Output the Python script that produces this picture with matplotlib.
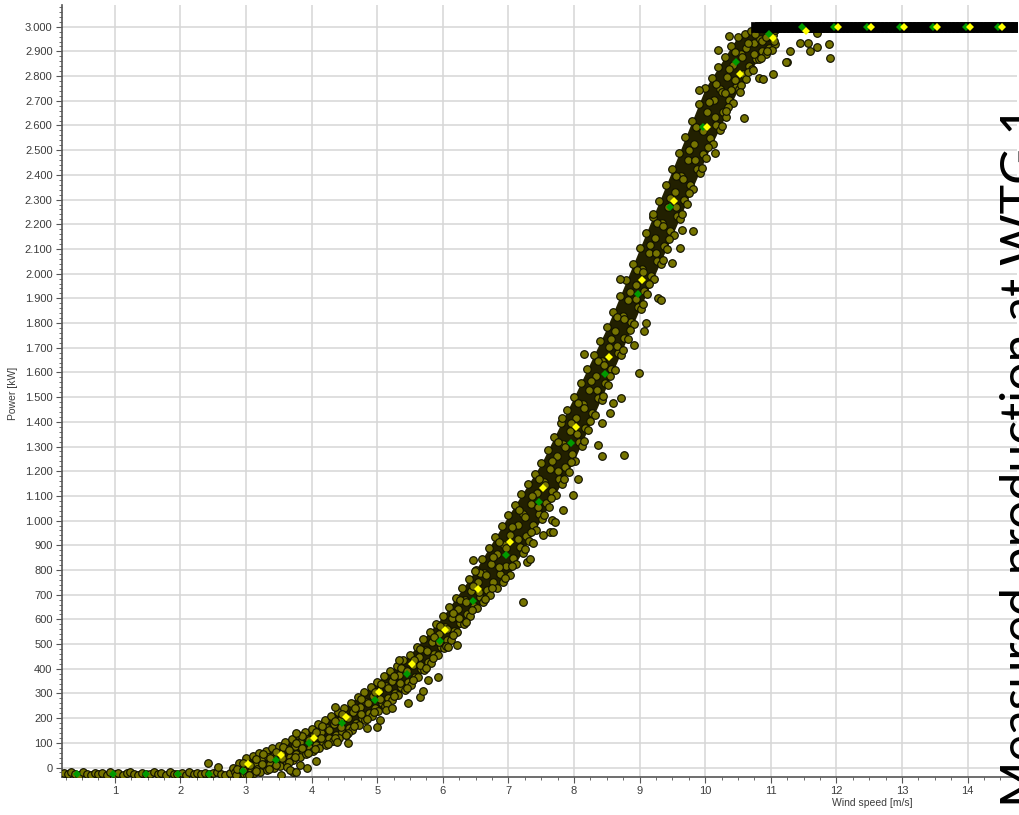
import matplotlib
matplotlib.use("Agg")
import matplotlib.pyplot as plt
import numpy as np
from matplotlib.ticker import MultipleLocator, FuncFormatter

# binned power curve (yellow) and second curve (green)
yellow_ws = [3.03, 3.53, 4.03, 4.53, 5.03, 5.53, 6.03, 6.53, 7.03, 7.53, 8.03, 8.53,
             9.03, 9.53, 10.03, 10.53, 11.03, 11.53, 12.03, 12.53, 13.03, 13.53, 14.03, 14.53]
yellow_kw = [14, 51, 121, 204, 304, 419, 557, 722, 915, 1131, 1381, 1664,
             1974, 2294, 2595, 2808, 2953, 2984, 2998, 3000, 3000, 3000, 3000, 3000]
green_ws = [0.42, 0.98, 1.47, 1.97, 2.44, 2.96, 3.46, 3.96, 4.46, 4.96, 5.46, 5.96, 6.46,
            6.96, 7.46, 7.96, 8.47, 8.97, 9.46, 9.96, 10.47, 10.97, 11.47, 11.97, 12.47,
            12.97, 13.47, 13.97, 14.47]
green_kw = [-25, -25, -25, -25, -25, -12, 31, 99, 182, 274, 378, 514, 676,
            861, 1074, 1313, 1594, 1917, 2271, 2595, 2858, 2970, 3000, 3000, 3000,
            3000, 3000, 3000, 3000]

# dense core of the measured cloud (upper / lower edge)
band_ws = [2.7, 3.0, 3.5, 4.0, 4.5, 5.0, 5.5, 6.0, 6.5, 7.0, 7.5, 8.0, 8.5, 9.0, 9.5,
           10.0, 10.5, 10.8, 11.0]
band_hi = [-20, 40, 90, 160, 244, 348, 458, 612, 800, 1020, 1230, 1500, 1780, 2100, 2420,
           2750, 2962, 2995, 3000]
band_lo = [-37, -37, 5, 62, 130, 226, 333, 482, 644, 776, 1006, 1242, 1546, 1856, 2156,
           2466, 2746, 2866, 2905]

# measured 10-min points
meas_ws = [
    2.80, 2.84, 2.87, 2.90, 2.94, 2.97,
    3.00, 3.03, 3.07, 3.02, 3.10, 3.14, 3.17, 3.12, 3.20, 3.23, 3.27, 3.22,
    3.30, 3.34, 3.37, 3.32, 3.40, 3.43, 3.47, 3.42, 3.50, 3.54, 3.57, 3.52,
    3.60, 3.63, 3.67, 3.62, 3.70, 3.74, 3.77, 3.72, 3.80, 3.83, 3.87, 3.82,
    3.90, 3.94, 3.97, 3.92, 4.00, 4.03, 4.07, 4.02, 4.10, 4.14, 4.17, 4.12,
    4.20, 4.23, 4.27, 4.22, 4.30, 4.34, 4.37, 4.32, 4.40, 4.43, 4.47, 4.42,
    4.50, 4.54, 4.57, 4.52, 4.60, 4.63, 4.67, 4.62, 4.70, 4.74, 4.77, 4.72,
    4.80, 4.83, 4.87, 4.82, 4.90, 4.94, 4.97, 4.92, 5.00, 5.03, 5.07, 5.02,
    5.10, 5.14, 5.17, 5.12, 5.20, 5.23, 5.27, 5.22, 5.30, 5.34, 5.37, 5.32,
    5.40, 5.43, 5.47, 5.42, 5.50, 5.54, 5.57, 5.52, 5.60, 5.63, 5.67, 5.62,
    5.70, 5.74, 5.77, 5.72, 5.80, 5.83, 5.87, 5.82, 5.90, 5.94, 5.97, 5.92,
    6.00, 6.03, 6.07, 6.02, 6.10, 6.14, 6.17, 6.12, 6.20, 6.23, 6.27, 6.22,
    6.30, 6.34, 6.37, 6.32, 6.40, 6.43, 6.47, 6.42, 6.50, 6.54, 6.57, 6.52,
    6.60, 6.63, 6.67, 6.62, 6.70, 6.74, 6.77, 6.72, 6.80, 6.83, 6.87, 6.82,
    6.90, 6.94, 6.97, 6.92, 7.00, 7.03, 7.07, 7.02, 7.10, 7.14, 7.17, 7.12,
    7.20, 7.23, 7.27, 7.22, 7.30, 7.34, 7.37, 7.32, 7.40, 7.43, 7.47, 7.42,
    7.50, 7.54, 7.57, 7.52, 7.60, 7.63, 7.67, 7.62, 7.70, 7.74, 7.77, 7.72,
    7.80, 7.83, 7.87, 7.82, 7.90, 7.94, 7.97, 7.92, 8.00, 8.03, 8.07, 8.02,
    8.10, 8.14, 8.17, 8.12, 8.20, 8.23, 8.27, 8.22, 8.30, 8.34, 8.37, 8.32,
    8.40, 8.43, 8.47, 8.42, 8.50, 8.54, 8.57, 8.52, 8.60, 8.63, 8.67, 8.62,
    8.70, 8.74, 8.77, 8.72, 8.80, 8.83, 8.87, 8.82, 8.90, 8.94, 8.97, 8.92,
    9.00, 9.03, 9.07, 9.02, 9.10, 9.14, 9.17, 9.12, 9.20, 9.23, 9.27, 9.22,
    9.30, 9.34, 9.37, 9.32, 9.40, 9.43, 9.47, 9.42, 9.50, 9.54, 9.57, 9.52,
    9.60, 9.63, 9.67, 9.62, 9.70, 9.74, 9.77, 9.72, 9.80, 9.83, 9.87, 9.82,
    9.90, 9.94, 9.97, 9.92, 10.00, 10.03, 10.07, 10.02, 10.10, 10.14, 10.17, 10.12,
    10.20, 10.23, 10.27, 10.22, 10.30, 10.34, 10.37, 10.32, 10.40, 10.43, 10.47, 10.42,
    10.50, 10.54, 10.57, 10.52, 10.60, 10.63, 10.67, 10.62, 10.70, 10.74, 10.77, 10.72,
    10.80, 10.83, 10.87, 10.82, 10.90, 10.94, 10.97, 10.92, 11.00, 11.04, 11.07, 11.02,
    # second pass through the core
    2.85, 2.86, 2.95, 2.96, 3.05, 3.06, 3.15, 3.16, 3.25, 3.26, 3.35, 3.36,
    3.45, 3.46, 3.55, 3.56, 3.65, 3.66, 3.75, 3.76, 3.85, 3.86, 3.95, 3.96,
    4.05, 4.06, 4.15, 4.16, 4.25, 4.26, 4.35, 4.36, 4.45, 4.46, 4.55, 4.56,
    4.65, 4.66, 4.75, 4.76, 4.85, 4.86, 4.95, 4.96, 5.05, 5.06, 5.15, 5.16,
    5.25, 5.26, 5.35, 5.36, 5.45, 5.46, 5.55, 5.56, 5.65, 5.66, 5.75, 5.76,
    5.85, 5.86, 5.95, 5.96, 6.05, 6.06, 6.15, 6.16, 6.25, 6.26, 6.35, 6.36,
    6.45, 6.46, 6.55, 6.56, 6.65, 6.66, 6.75, 6.76, 6.85, 6.86, 6.95, 6.96,
    7.05, 7.06, 7.15, 7.16, 7.25, 7.26, 7.35, 7.36, 7.45, 7.46, 7.55, 7.56,
    7.65, 7.66, 7.75, 7.76, 7.85, 7.86, 7.95, 7.96, 8.05, 8.06, 8.15, 8.16,
    8.25, 8.26, 8.35, 8.36, 8.45, 8.46, 8.55, 8.56, 8.65, 8.66, 8.75, 8.76,
    8.85, 8.86, 8.95, 8.96, 9.05, 9.06, 9.15, 9.16, 9.25, 9.26, 9.35, 9.36,
    9.45, 9.46, 9.55, 9.56, 9.65, 9.66, 9.75, 9.76, 9.85, 9.86, 9.95, 9.96,
    10.05, 10.06, 10.15, 10.16, 10.25, 10.26, 10.35, 10.36, 10.45, 10.46,
    10.55, 10.56, 10.65, 10.66, 10.75, 10.76, 10.85, 10.86, 10.95, 10.96, 11.05, 11.06,
    # scattered points off the core
    2.42, 2.57, 3.62, 3.72, 3.54, 3.93, 4.06, 3.82, 3.67, 3.77, 4.53, 4.56, 4.38,
    4.84, 4.99, 5.04, 5.14, 5.22, 5.47, 5.65, 5.70, 5.78, 5.92, 6.08, 6.21, 5.34,
    3.77, 4.35, 6.46, 6.49, 7.23, 7.28, 7.33, 7.63, 7.67, 7.81, 8.42, 8.37, 8.43,
    8.06, 7.98, 7.83, 7.71, 7.68, 7.53, 7.38, 8.60, 8.72, 8.55, 8.16, 8.70, 8.99,
    9.28, 9.33, 9.07, 9.10, 9.61, 9.50, 9.64, 9.81, 10.59, 11.03, 11.25, 11.29,
    10.82, 10.88, 10.73, 10.53, 10.40, 10.31, 10.15, 10.32, 9.90, 10.20, 10.36,
    11.24, 11.44, 11.57, 11.60, 11.70, 11.89, 11.90, 11.70, 10.92, 8.77, 8.91, 9.20,
]
meas_kw = [
    -2, -20, -30, 18, -5, -25,
    38, 12, -12, -30, 48, 20, -5, -24, 58, 33, 5, -16,
    68, 42, 14, -8, 78, 50, 22, 0, 88, 60, 30, 8,
    102, 76, 42, 20, 116, 88, 54, 31, 130, 103, 66, 43,
    145, 116, 78, 54, 158, 130, 90, 66, 175, 144, 104, 79,
    192, 160, 118, 93, 208, 175, 132, 106, 225, 191, 146, 120,
    242, 206, 160, 133, 263, 226, 180, 152, 284, 247, 200, 171,
    305, 267, 220, 191, 326, 288, 240, 210, 347, 308, 260, 229,
    369, 330, 281, 250, 391, 352, 303, 272, 413, 373, 325, 293,
    435, 395, 347, 315, 457, 417, 368, 336, 488, 448, 398, 366,
    519, 478, 428, 396, 550, 509, 458, 425, 581, 540, 488, 455,
    612, 570, 518, 485, 650, 606, 552, 517, 688, 642, 586, 549,
    726, 678, 620, 582, 764, 714, 654, 614, 802, 750, 690, 646,
    846, 788, 721, 672, 890, 826, 752, 698, 934, 864, 785, 726,
    978, 901, 816, 752, 1022, 940, 848, 778, 1064, 982, 893, 824,
    1106, 1026, 938, 870, 1148, 1069, 982, 916, 1190, 1112, 1027, 962,
    1232, 1155, 1072, 1008, 1286, 1208, 1121, 1055, 1340, 1260, 1170, 1102,
    1394, 1311, 1219, 1149, 1448, 1362, 1268, 1196, 1502, 1414, 1318, 1243,
    1558, 1472, 1377, 1304, 1614, 1530, 1436, 1365, 1670, 1587, 1496, 1426,
    1726, 1645, 1556, 1487, 1782, 1702, 1615, 1548, 1846, 1766, 1678, 1610,
    1910, 1829, 1740, 1672, 1974, 1892, 1803, 1734, 2038, 1956, 1865, 1796,
    2102, 2019, 1928, 1858, 2166, 2082, 1989, 1918, 2230, 2144, 2050, 1978,
    2294, 2207, 2112, 2038, 2358, 2270, 2173, 2098, 2422, 2332, 2234, 2158,
    2488, 2397, 2297, 2220, 2554, 2461, 2360, 2282, 2620, 2526, 2424, 2344,
    2686, 2591, 2486, 2406, 2752, 2655, 2550, 2468, 2794, 2702, 2601, 2524,
    2836, 2749, 2654, 2580, 2878, 2796, 2705, 2636, 2920, 2843, 2757, 2692,
    2960, 2890, 2810, 2748, 2972, 2912, 2840, 2790, 2982, 2935, 2868, 2830,
    2990, 2950, 2900, 2868, 2992, 2960, 2915, 2890, 2994, 2966, 2930, 2905,
    # second pass through the core
    -29, -4, -11, 18, -29, 12, -15, 36, 15, 55, -6, 39,
    10, 65, 40, 84, 22, 70, 41, 101, 78, 126, 57, 110,
    77, 142, 118, 170, 97, 154, 119, 190, 163, 218, 138, 200,
    167, 243, 217, 277, 196, 261, 226, 305, 277, 339, 256, 323,
    288, 369, 342, 405, 321, 389, 353, 435, 416, 479, 402, 471,
    442, 527, 507, 572, 491, 563, 536, 625, 606, 677, 590, 670,
    636, 735, 710, 789, 683, 778, 727, 852, 812, 915, 768, 889,
    817, 973, 924, 1041, 887, 1013, 953, 1101, 1056, 1169, 1024, 1144,
    1091, 1240, 1201, 1318, 1167, 1298, 1236, 1397, 1351, 1477, 1323, 1458,
    1405, 1564, 1527, 1647, 1505, 1632, 1585, 1735, 1708, 1824, 1689, 1816,
    1772, 1926, 1896, 2015, 1876, 2006, 1958, 2116, 2083, 2206, 2057, 2193,
    2140, 2305, 2268, 2396, 2240, 2382, 2326, 2499, 2459, 2593, 2428, 2576,
    2514, 2694, 2636, 2768, 2599, 2735, 2674, 2829, 2786, 2899,
    2763, 2878, 2816, 2936, 2891, 2970, 2874, 2944, 2902, 2974, 2942, 2988,
    # scattered points off the core
    20, 2, 2, -16, -30, -2, 27, 11, -9, -20, 132, 99, 105,
    160, 166, 193, 234, 240, 261, 287, 308, 355, 368, 490, 497, 436,
    139, 247, 841, 796, 672, 834, 844, 955, 1003, 1414, 1394, 1306, 1262,
    1168, 1104, 1043, 996, 955, 942, 908, 1475, 1496, 1435, 1675, 1977, 1597,
    1900, 1893, 1768, 1799, 2103, 2042, 2177, 2174, 2629, 2808, 2858, 2903,
    2791, 2787, 2825, 2737, 2744, 2730, 2487, 2660, 2744, 2906, 2962,
    2858, 2935, 2932, 2903, 2919, 2928, 2872, 2973, 2960, 1265, 1710, 2240,
]

# low-wind points sitting just below zero
idle_ws = [0.22, 0.28, 0.33, 0.40, 0.46, 0.51, 0.57, 0.63, 0.70, 0.75, 0.81, 0.88, 0.93,
           1.00, 1.05, 1.12, 1.18, 1.23, 1.30, 1.35, 1.42, 1.48, 1.53, 1.60, 1.66, 1.71,
           1.78, 1.84, 1.90, 1.95, 2.02, 2.08, 2.13, 2.20, 2.26, 2.31, 2.38, 2.44, 2.50,
           2.56, 2.62, 2.68, 2.75]
idle_kw = [-22, -28, -20, -26, -30, -19, -25, -29, -21, -27, -23, -30, -20,
           -26, -22, -29, -24, -19, -27, -30, -21, -25, -28, -20, -26, -23,
           -29, -19, -25, -27, -22, -30, -20, -26, -24, -28, -21, -27, -23,
           -18, -26, -29, -22]

# points at rated power
rated_ws = [10.78, 10.84, 10.90, 10.96, 11.02, 11.08, 11.14, 11.20, 11.26, 11.32, 11.38,
            11.44, 11.50, 11.56, 11.62, 11.68, 11.74, 11.80, 11.86, 11.92, 11.98, 12.04,
            12.10, 12.16, 12.22, 12.28, 12.34, 12.40, 12.46, 12.52, 12.58, 12.64, 12.70,
            12.76, 12.82, 12.88, 12.94, 13.00, 13.06, 13.12, 13.18, 13.24, 13.30, 13.36,
            13.42, 13.48, 13.54, 13.60, 13.66, 13.72, 13.78, 13.84, 13.90, 13.96, 14.02,
            14.08, 14.14, 14.20, 14.26, 14.32, 14.38, 14.44, 14.50, 14.56, 14.62, 14.68,
            14.74]
rated_kw = [3000] * len(rated_ws)

fig = plt.figure(figsize=(10.2, 8.15), dpi=100)
ax = fig.add_axes([0.0611, 0.047, 0.9357, 0.9469])

pt_style = dict(s=30, marker='o', facecolor='#767400', edgecolor='#121200',
                linewidth=0.85, zorder=3)
ax.fill_between(band_ws, band_lo, band_hi, color='#222000', lw=0, zorder=2)
ax.scatter(idle_ws, idle_kw, **pt_style)
ax.scatter(meas_ws, meas_kw, **pt_style)
ax.scatter(rated_ws, rated_kw, s=46, marker='s', facecolor='#000000',
           edgecolor='#000000', linewidth=0.5, zorder=3)
ax.plot(green_ws, green_kw, 'D', color='#009a00', ms=4.4, mew=0, zorder=4)
ax.plot(yellow_ws, yellow_kw, 'D', color='#ffff00', ms=4.4, mew=0, zorder=5)

ax.set_xlim(0.2, 14.75)
ax.set_ylim(-37, 3088)
ax.set_xticks(range(1, 15))
ax.set_yticks(range(0, 3001, 100))
ax.xaxis.set_minor_locator(MultipleLocator(0.25))
ax.yaxis.set_minor_locator(MultipleLocator(20))
ax.yaxis.set_major_formatter(FuncFormatter(lambda v, p: f"{int(v):,}".replace(",", ".")))

ax.set_axisbelow(True)
ax.grid(True, which='major', color='#d6d6d6', lw=1.1)
for s in ['top', 'right']:
    ax.spines[s].set_visible(False)
for s in ['left', 'bottom']:
    ax.spines[s].set_color('#555555')
    ax.spines[s].set_linewidth(1.2)
ax.tick_params(which='major', length=4, width=0.8, color='#555555', labelsize=8,
               labelcolor='#3c3c3c', pad=3)
ax.tick_params(which='minor', length=2.2, width=0.6, color='#555555')
for lab in ax.get_xticklabels() + ax.get_yticklabels():
    lab.set_family('Liberation Sans')

ax.set_xlabel('Wind speed [m/s]', fontsize=7.5, color='#3c3c3c', family='Liberation Sans')
ax.xaxis.set_label_coords(0.849, -0.028)
ax.set_ylabel('Power [kW]', fontsize=7.5, color='#3c3c3c', family='Liberation Sans')
ax.yaxis.set_label_coords(-0.046, 0.497)

fig.text(0.980, 0.44, 'Measured production at WTG 1', rotation=90, ha='left',
         va='center', fontsize=36, family='Lato', color='black')

fig.savefig('out.png', dpi=100)
